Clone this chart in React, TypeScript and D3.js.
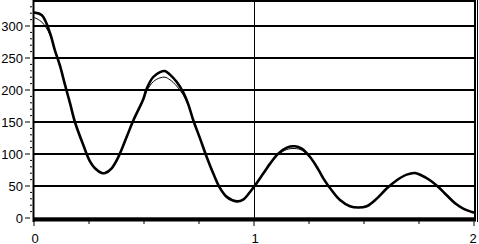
import React from "react";
import * as d3 from "d3";

const xs = [0, 0.036, 0.073, 0.095, 0.118, 0.141, 0.164, 0.186, 0.224, 0.255, 0.277, 0.308, 0.323, 0.353, 0.383, 0.421, 0.451, 0.497, 0.512, 0.542, 0.573, 0.595, 0.618, 0.649, 0.679, 0.701, 0.724, 0.755, 0.785, 0.815, 0.845, 0.876, 0.921, 0.951, 0.982, 1.005, 1.042, 1.073, 1.11, 1.149, 1.186, 1.217, 1.255, 1.292, 1.315, 1.353, 1.391, 1.436, 1.474, 1.512, 1.558, 1.603, 1.649, 1.694, 1.732, 1.755, 1.8, 1.838, 1.876, 1.914, 1.951, 1.99, 2.0];
const thickValues = [321, 316.7, 288.6, 262, 238, 208, 179, 150, 114, 88, 77.7, 70.3, 70.3, 77.7, 95, 126.6, 152, 186, 202, 220.3, 228, 229.7, 224, 212.5, 196, 178, 152.7, 124, 95.3, 69.4, 47, 33, 26, 28.8, 40.6, 51, 69.4, 85, 100.6, 110, 112, 108.4, 95.3, 76, 62, 43.3, 28, 18.3, 16.3, 18.3, 30.3, 46, 59, 67.8, 70.3, 67.5, 59, 48.4, 35.5, 23, 14.7, 9.4, 8.4];
const thinValues = [313.5, 306, 286, 261, 237, 208, 179, 150, 114, 88, 77.7, 70.3, 70.3, 77.7, 95, 126.6, 152, 184, 198, 213, 219, 220, 216, 206, 192, 176, 152, 124, 95.3, 69.4, 47, 33, 26, 28.8, 40.6, 51, 69.4, 84, 98.5, 107, 108.5, 106, 94.5, 76, 62, 43.3, 28, 18.3, 16.3, 18.3, 30.3, 46, 59, 67.5, 69.5, 67, 59, 48.4, 35.5, 23, 14.7, 9.4, 8.4];
const yMajorTicks = [0, 50, 100, 150, 200, 250, 300];
const yMinorTicks = [10, 20, 30, 40, 60, 70, 80, 90, 110, 120, 130, 140, 160, 170, 180, 190, 210, 220, 230, 240, 260, 270, 280, 290, 310, 320, 330];
const xMajorTicks = [0, 1, 2];
const xMinorTicks = [0.25, 0.5, 0.75, 1.25, 1.5, 1.75];

export default function App() {
  const W = 479, H = 244;
  const x = d3.scaleLinear().domain([0, 2]).range([34, 474]);
  const y = d3.scaleLinear().domain([0, 340]).range([218, 0.4]);
  const line = (vals: number[]) =>
    d3.line<number>().x((_, i) => x(xs[i])).y((d) => y(d)).curve(d3.curveCatmullRom.alpha(0.5))(vals) || "";
  const font = "'Liberation Sans', Arial, sans-serif";
  return (
    <svg width={W} height={H} style={{ position: "absolute", left: 0, top: 0, background: "#fff" }}>
      <defs>
        <clipPath id="plot">
          <rect x={34} y={0} width={441} height={220} />
        </clipPath>
      </defs>
      <rect x={0} y={0} width={W} height={H} fill="#fff" />
      {yMajorTicks.filter((t) => t > 0).map((t) => (
        <line key={"g" + t} x1={34} x2={475} y1={y(t)} y2={y(t)} stroke="#000" strokeWidth={2} />
      ))}
      <line x1={Math.round(x(1)) + 0.5} x2={Math.round(x(1)) + 0.5} y1={0} y2={218} stroke="#000" strokeWidth={1} />
      <line x1={34} x2={476} y1={1} y2={1} stroke="#000" strokeWidth={2} />
      <line x1={475} x2={475} y1={0} y2={220} stroke="#000" strokeWidth={2} />
      <line x1={477.5} x2={477.5} y1={0} y2={222} stroke="#000" strokeWidth={1} />
      <g clipPath="url(#plot)">
        <path d={line(thinValues)} fill="none" stroke="#000" strokeWidth={1} />
        <path d={line(thickValues)} fill="none" stroke="#000" strokeWidth={2.6} />
      </g>
      <line x1={33.5} x2={33.5} y1={0} y2={222} stroke="#000" strokeWidth={2} />
      {yMajorTicks.map((t) => (
        <g key={"yt" + t}>
          <line x1={25} x2={30} y1={y(t)} y2={y(t)} stroke="#000" strokeWidth={1} />
          <text x={23} y={y(t) + 4.5} textAnchor="end" fontFamily={font} fontSize={13} fill="#000">{t}</text>
        </g>
      ))}
      {yMinorTicks.map((t) => (
        <line key={"ym" + t} x1={30} x2={32} y1={y(t)} y2={y(t)} stroke="#000" strokeWidth={1} />
      ))}
      <rect x={33} y={217.3} width={443} height={4.2} fill="#000" />
      {xMajorTicks.map((t) => (
        <g key={"xt" + t}>
          <line x1={x(t)} x2={x(t)} y1={221} y2={226} stroke="#000" strokeWidth={1} />
          <text x={t === 2 ? x(t) - 1 : x(t) + 1} y={242.5} textAnchor="middle" fontFamily={font} fontSize={13} fill="#000">{t}</text>
        </g>
      ))}
      {xMinorTicks.map((t) => (
        <line key={"xm" + t} x1={x(t)} x2={x(t)} y1={221} y2={224} stroke="#000" strokeWidth={1} />
      ))}
    </svg>
  );
}
